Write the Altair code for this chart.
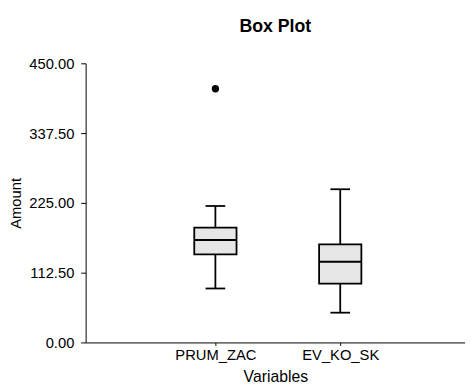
import altair as alt
import pandas as pd

categories = ["PRUM_ZAC", "EV_KO_SK"]
positions = [1, 2]
lower_whisker = [87, 48]
q1 = [142, 95]
median = [165, 130]
q3 = [185, 158]
upper_whisker = [220, 247]
outlier_category = ["PRUM_ZAC"]
outlier_value = [409]

df = pd.DataFrame({
    "cat": categories,
    "pos": positions,
    "lo": lower_whisker,
    "q1": q1,
    "med": median,
    "q3": q3,
    "hi": upper_whisker,
})
out = pd.DataFrame({
    "cat": outlier_category,
    "pos": [positions[categories.index(c)] for c in outlier_category],
    "val": outlier_value,
})

FONT = "Liberation Sans"
label_map = "[" + ",".join("'" + c + "'" for c in categories) + "][datum.value-1]"

xscale = alt.Scale(domain=[0, 2.96], nice=False, zero=False)
yscale = alt.Scale(domain=[0, 450], nice=False)

xaxis = alt.Axis(
    values=positions, labelExpr=label_map, title="Variables",
    grid=False, domainColor="black", tickColor="black", tickSize=3,
    labelFont=FONT, labelFontSize=15, labelColor="black", labelPadding=2,
    titleFont=FONT, titleFontSize=16, titleFontWeight="normal", titleColor="black",
    titleY=27, labelOverlap=False,
)
yticks = [i * 28.125 for i in range(17)]
yaxis = alt.Axis(
    values=yticks,
    labelExpr="datum.value % 112.5 == 0 ? format(datum.value, '.2f') : ''",
    title="Amount", grid=False, domainColor="black", tickColor="black", tickSize=5,
    labelFont=FONT, labelFontSize=15, labelColor="black", labelPadding=7,
    titleFont=FONT, titleFontSize=15, titleFontWeight="normal", titleColor="black",
    titleX=-66, titleY=142, titleBaseline="alphabetic", labelOverlap=False,
)

base = alt.Chart(df)

lower_rule = base.mark_rule(color="black", strokeWidth=1.8).encode(
    x=alt.X("pos:Q", scale=xscale, axis=xaxis),
    y=alt.Y("lo:Q", scale=yscale, axis=yaxis),
    y2="q1:Q",
)
upper_rule = base.mark_rule(color="black", strokeWidth=1.8).encode(
    x=alt.X("pos:Q", scale=xscale), y=alt.Y("q3:Q", scale=yscale), y2="hi:Q"
)
box = base.mark_bar(size=43, fill="#e6e6e6", stroke="black", strokeWidth=1.8).encode(
    x=alt.X("pos:Q", scale=xscale), y=alt.Y("q1:Q", scale=yscale), y2="q3:Q"
)
med = base.mark_tick(orient="horizontal", size=43, thickness=2, color="black", opacity=1).encode(
    x=alt.X("pos:Q", scale=xscale), y=alt.Y("med:Q", scale=yscale)
)
cap_lo = base.mark_tick(orient="horizontal", size=20, thickness=1.8, color="black", opacity=1).encode(
    x=alt.X("pos:Q", scale=xscale), y=alt.Y("lo:Q", scale=yscale)
)
cap_hi = base.mark_tick(orient="horizontal", size=20, thickness=1.8, color="black", opacity=1).encode(
    x=alt.X("pos:Q", scale=xscale), y=alt.Y("hi:Q", scale=yscale)
)
pts = alt.Chart(out).mark_circle(size=55, color="black", opacity=1).encode(
    x=alt.X("pos:Q", scale=xscale), y=alt.Y("val:Q", scale=yscale)
)

chart = alt.layer(lower_rule, upper_rule, box, med, cap_lo, cap_hi, pts).properties(
    width=386,
    height=284,
    title=alt.TitleParams("Box Plot", font=FONT, fontSize=18, fontWeight="bold",
                          color="black", anchor="middle", offset=21),
    autosize=alt.AutoSizeParams(type="none"),
    padding={"left": 79, "top": 53, "right": 0, "bottom": 40},
).configure_view(stroke=None).configure_axisY(domainColor="black").configure_axisX(domainColor="black")

chart.save("out.html", embed_options={"renderer": "svg", "actions": False})
